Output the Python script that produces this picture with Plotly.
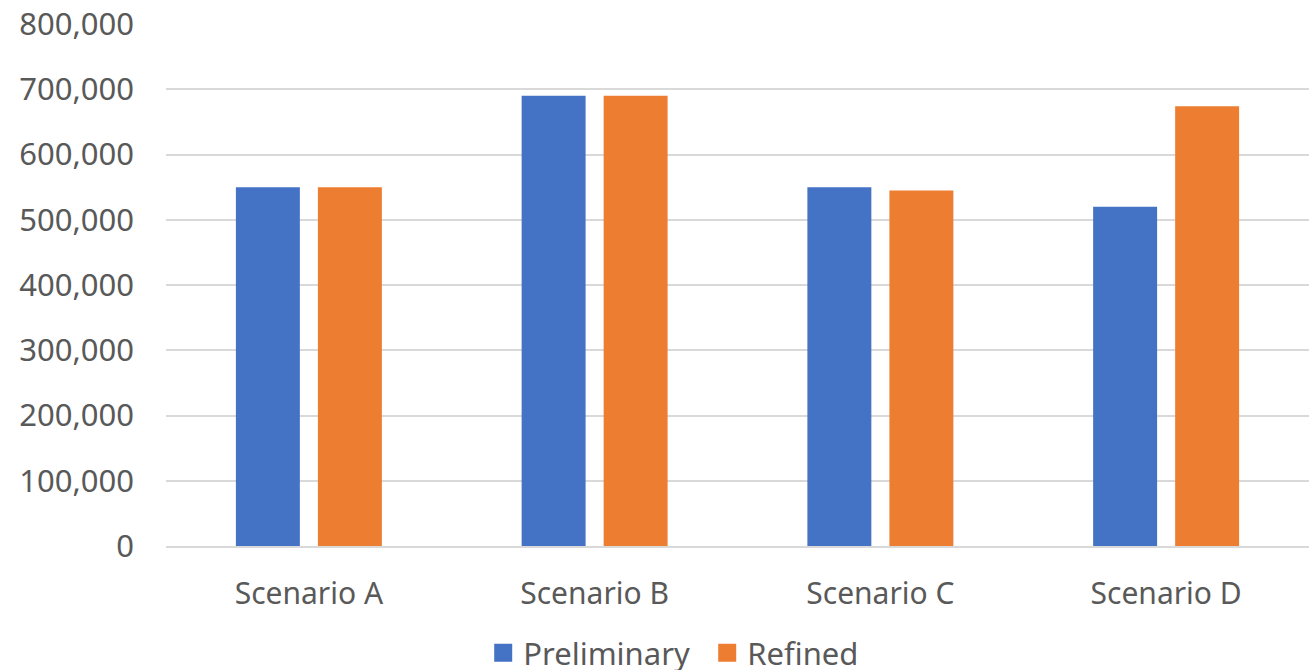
import plotly.graph_objects as go

# Scenario totals for the two estimate passes
scenarios = ["Scenario A", "Scenario B", "Scenario C", "Scenario D"]
preliminary = [550000, 690000, 550000, 520000]
refined = [550000, 690000, 545000, 674000]

series_names = ["Preliminary", "Refined"]
series_colors = ["#4472C4", "#ED7D31"]

font_family = "Noto Sans"
text_color = "#595959"

fig = go.Figure()
for name, values, color in zip(series_names, [preliminary, refined], series_colors):
    fig.add_trace(go.Bar(x=scenarios, y=values, name=name, showlegend=False,
                         marker=dict(color=color, line=dict(width=0))))

# Legend entries with larger square swatches
for name, color in zip(series_names, series_colors):
    fig.add_trace(go.Scatter(x=[None], y=[None], mode="markers", name=name,
                             marker=dict(symbol="square", size=19, color=color,
                                         line=dict(width=2, color=color)),
                             showlegend=True))

fig.update_layout(
    width=1311, height=670,
    margin=dict(l=166, r=2, t=24, b=124, autoexpand=False),
    paper_bgcolor="white", plot_bgcolor="white",
    barmode="group", bargap=0.426, bargroupgap=0.22,
    font=dict(family=font_family, size=30, color=text_color),
    legend=dict(orientation="h", x=0.4735, xanchor="center", y=-0.205, yanchor="middle",
                font=dict(size=31, color=text_color), itemsizing="trace",
                itemwidth=30, entrywidth=179, entrywidthmode="pixels",
                traceorder="normal"),
    xaxis=dict(showgrid=False, showline=True, linecolor="#d9d9d9", linewidth=2,
               ticks="", ticklabelstandoff=20, tickfont=dict(size=30)),
    yaxis=dict(range=[0, 800000], dtick=100000, tickformat=",d",
               showgrid=True, gridcolor="#d9d9d9", gridwidth=2,
               zeroline=False, showline=False, ticks="",
               ticklabelstandoff=31, tickfont=dict(size=31)),
)

fig.write_html("out.html")
